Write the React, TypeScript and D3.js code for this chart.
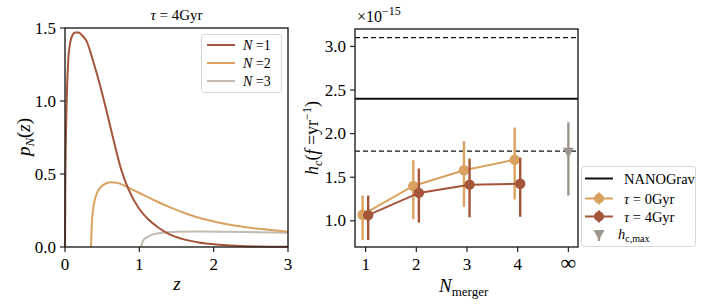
import * as d3 from "d3";

// left panel: p_N(z) for tau = 4 Gyr
const Z_N1 = [0, 0.005, 0.013, 0.025, 0.045, 0.07, 0.1, 0.14, 0.18, 0.23, 0.29, 0.38, 0.47, 0.55, 0.65, 0.75, 0.85, 1.0, 1.12, 1.25, 1.4, 1.6, 1.8, 2.0, 2.3, 2.6, 3.0];
const P_N1 = [0, 0.45, 0.77, 1.05, 1.29, 1.4, 1.45, 1.47, 1.47, 1.45, 1.41, 1.27, 1.11, 0.95, 0.74, 0.54, 0.4, 0.26, 0.19, 0.135, 0.088, 0.052, 0.031, 0.019, 0.008, 0.003, 0.001];
const Z_N2 = [0.35, 0.36, 0.38, 0.4, 0.43, 0.48, 0.55, 0.62, 0.7, 0.8, 0.9, 1.0, 1.2, 1.4, 1.6, 1.8, 2.0, 2.3, 2.6, 3.0];
const P_N2 = [0, 0.15, 0.265, 0.32, 0.37, 0.41, 0.435, 0.443, 0.44, 0.42, 0.395, 0.37, 0.32, 0.275, 0.235, 0.2, 0.175, 0.145, 0.125, 0.105];
const Z_N3 = [1.02, 1.04, 1.07, 1.1, 1.15, 1.23, 1.35, 1.5, 1.8, 2.2, 2.6, 3.0];
const P_N3 = [0, 0.03, 0.055, 0.066, 0.08, 0.092, 0.1, 0.104, 0.106, 0.104, 0.101, 0.098];
const LEFT_XTICKS = [0, 1, 2, 3];
const LEFT_YTICKS = [0, 0.5, 1.0, 1.5];

// right panel: h_c(f = 1/yr) in units of 1e-15
const N_MERGER = [1, 2, 3, 4];
const TAU0_HC = [1.07, 1.4, 1.58, 1.7];
const TAU0_LO = [0.78, 1.02, 1.16, 1.245];
const TAU0_HI = [1.29, 1.695, 1.915, 2.07];
const TAU4_HC = [1.065, 1.32, 1.415, 1.425];
const TAU4_LO = [0.78, 0.98, 1.04, 1.046];
const TAU4_HI = [1.29, 1.6, 1.714, 1.725];
const HCMAX = [1.78];
const HCMAX_LO = [1.29];
const HCMAX_HI = [2.13];
const NANOGRAV = 2.4;
const NANOGRAV_LO = 1.8;
const NANOGRAV_HI = 3.1;
const RIGHT_XTICKS = [1, 2, 3, 4, 5];
const RIGHT_XLABELS = ["1", "2", "3", "4", "∞"];
const RIGHT_YTICKS = [1.0, 1.5, 2.0, 2.5, 3.0];

const BROWN = "#a5553a";
const ORANGE = "#d9a260";
const LIGHTGRAY = "#c3bab1";
const MARKGRAY = "#9d968d";
const FONT = "'Liberation Serif', 'DejaVu Serif', serif";

const xL = d3.scaleLinear().domain([0, 3]).range([65, 288]);
const yL = d3.scaleLinear().domain([0, 1.5]).range([247, 28]);
const xR = d3.scaleLinear().domain([0.79, 5.19]).range([355, 578]);
const yR = d3.scaleLinear().domain([0.7, 3.2]).range([247, 29]);

const lineL = (zs: number[], ps: number[]) =>
  d3
    .line<number>()
    .x((_, i) => xL(zs[i]))
    .y((d) => yL(d))
    .curve(d3.curveMonotoneX)(ps) as string;

const Series = ({ xs, ys, lo, hi, color, dx }: { xs: number[]; ys: number[]; lo: number[]; hi: number[]; color: string; dx: number }) => {
  const path = d3
    .line<number>()
    .x((_, i) => xR(xs[i] + dx))
    .y((d) => yR(d))(ys) as string;
  return (
    <g>
      {xs.map((x, i) => (
        <line key={"e" + i} x1={xR(x + dx)} x2={xR(x + dx)} y1={yR(lo[i])} y2={yR(hi[i])} stroke={color} strokeWidth={2.4} />
      ))}
      <path d={path} fill="none" stroke={color} strokeWidth={2} />
      {xs.map((x, i) => (
        <circle key={"c" + i} cx={xR(x + dx)} cy={yR(ys[i])} r={5.2} fill={color} />
      ))}
    </g>
  );
};

const App = () => {
  const fs = 17;
  return (
    <svg width={706} height={305} style={{ position: "absolute", left: 0, top: 0, background: "#fff" }} fontFamily={FONT}>
      {/* ---------- left panel ---------- */}
      <text x={176.5} y={20} textAnchor="middle" fontSize={15}>
        <tspan fontStyle="italic">τ</tspan> = 4Gyr
      </text>
      <path d={lineL(Z_N3, P_N3)} fill="none" stroke={LIGHTGRAY} strokeWidth={2} />
      <path d={lineL(Z_N2, P_N2)} fill="none" stroke={ORANGE} strokeWidth={2} />
      <path d={lineL(Z_N1, P_N1)} fill="none" stroke={BROWN} strokeWidth={2} />
      <rect x={65} y={28} width={223} height={219} fill="none" stroke="#222" strokeWidth={1.4} />
      {LEFT_XTICKS.map((t) => (
        <g key={t}>
          <line x1={xL(t)} x2={xL(t)} y1={247} y2={252} stroke="#222" strokeWidth={1.2} />
          <text x={xL(t)} y={270} textAnchor="middle" fontSize={fs}>{t}</text>
        </g>
      ))}
      {LEFT_YTICKS.map((t) => (
        <g key={t}>
          <line x1={60} x2={65} y1={yL(t)} y2={yL(t)} stroke="#222" strokeWidth={1.2} />
          <text x={56} y={yL(t) + 5.5} textAnchor="end" fontSize={fs}>{t.toFixed(1)}</text>
        </g>
      ))}
      <text x={177} y={290} textAnchor="middle" fontSize={19} fontStyle="italic">z</text>
      <text transform="translate(30,137) rotate(-90)" textAnchor="middle" fontSize={19}>
        <tspan fontStyle="italic">p</tspan>
        <tspan fontStyle="italic" fontSize={13} dy={4}>N</tspan>
        <tspan dy={-4}>(</tspan>
        <tspan fontStyle="italic">z</tspan>
        <tspan>)</tspan>
      </text>
      {/* left legend */}
      <rect x={201.5} y={34.5} width={80} height={58} rx={3} fill="#fff" fillOpacity={0.8} stroke="#d6d6d6" />
      {[
        { c: BROWN, n: 1 },
        { c: ORANGE, n: 2 },
        { c: LIGHTGRAY, n: 3 },
      ].map((d, i) => (
        <g key={d.n}>
          <line x1={207} x2={235} y1={45 + i * 18} y2={45 + i * 18} stroke={d.c} strokeWidth={2} />
          <text x={243} y={50 + i * 18} fontSize={14}>
            <tspan fontStyle="italic">N</tspan> =<tspan>{d.n}</tspan>
          </text>
        </g>
      ))}

      {/* ---------- right panel ---------- */}
      <line x1={355} x2={578} y1={yR(NANOGRAV)} y2={yR(NANOGRAV)} stroke="#111" strokeWidth={2} />
      {[NANOGRAV_LO, NANOGRAV_HI].map((v) => (
        <line key={v} x1={355} x2={578} y1={yR(v)} y2={yR(v)} stroke="#111" strokeWidth={1.3} strokeDasharray="5,3" />
      ))}
      <Series xs={N_MERGER} ys={TAU0_HC} lo={TAU0_LO} hi={TAU0_HI} color={ORANGE} dx={-0.06} />
      <Series xs={N_MERGER} ys={TAU4_HC} lo={TAU4_LO} hi={TAU4_HI} color={BROWN} dx={0.05} />
      {HCMAX.map((v, i) => (
        <g key={i}>
          <line x1={xR(5)} x2={xR(5)} y1={yR(HCMAX_LO[i])} y2={yR(HCMAX_HI[i])} stroke={MARKGRAY} strokeWidth={2.4} />
          <path
            d={`M${xR(5) - 5.5},${yR(v) - 5} L${xR(5) + 5.5},${yR(v) - 5} L${xR(5)},${yR(v) + 5.5} Z`}
            fill={MARKGRAY}
          />
        </g>
      ))}
      <rect x={355} y={29} width={223} height={218} fill="none" stroke="#222" strokeWidth={1.4} />
      {RIGHT_XTICKS.map((t, i) => (
        <g key={t}>
          <line x1={xR(t)} x2={xR(t)} y1={247} y2={252} stroke="#222" strokeWidth={1.2} />
          <text x={xR(t)} y={270} textAnchor="middle" fontSize={i === 4 ? 22 : fs}>{RIGHT_XLABELS[i]}</text>
        </g>
      ))}
      {RIGHT_YTICKS.map((t) => (
        <g key={t}>
          <line x1={350} x2={355} y1={yR(t)} y2={yR(t)} stroke="#222" strokeWidth={1.2} />
          <text x={346} y={yR(t) + 5.5} textAnchor="end" fontSize={fs}>{t.toFixed(1)}</text>
        </g>
      ))}
      <text x={357} y={22} fontSize={16}>
        ×10<tspan dy={-7} fontSize={12}>−15</tspan>
      </text>
      <text x={439} y={292} fontSize={19}>
        <tspan fontStyle="italic">N</tspan>
        <tspan fontSize={13} dy={4}>merger</tspan>
      </text>
      <text transform="translate(318,138) rotate(-90)" textAnchor="middle" fontSize={18}>
        <tspan fontStyle="italic">h</tspan>
        <tspan fontStyle="italic" fontSize={12} dy={4}>c</tspan>
        <tspan dy={-4}>(</tspan>
        <tspan fontStyle="italic">f</tspan>
        <tspan> =yr</tspan>
        <tspan fontSize={12} dy={-7}>−1</tspan>
        <tspan dy={7}>)</tspan>
      </text>
      {/* right legend */}
      <rect x={581.5} y={166.5} width={114} height={80} rx={3} fill="#fff" stroke="#d6d6d6" />
      <line x1={585} x2={613} y1={178.5} y2={178.5} stroke="#111" strokeWidth={2} />
      <text x={624} y={183.5} fontSize={14.5}>NANOGrav</text>
      {[
        { c: ORANGE, t: "0Gyr", y: 198.5 },
        { c: BROWN, t: "4Gyr", y: 216.5 },
      ].map((d) => (
        <g key={d.t}>
          <line x1={585} x2={613} y1={d.y} y2={d.y} stroke={d.c} strokeWidth={2} />
          <line x1={599} x2={599} y1={d.y - 6} y2={d.y + 6} stroke={d.c} strokeWidth={2.4} />
          <circle cx={599} cy={d.y} r={5} fill={d.c} />
          <text x={624} y={d.y + 5} fontSize={14.5}>
            <tspan fontStyle="italic">τ</tspan> = {d.t}
          </text>
        </g>
      ))}
      <line x1={599} x2={599} y1={230} y2={241} stroke={MARKGRAY} strokeWidth={2.4} />
      <path d="M593.5,230 L604.5,230 L599,240 Z" fill={MARKGRAY} />
      <text x={618} y={239} fontSize={14.5}>
        <tspan fontStyle="italic">h</tspan>
        <tspan fontSize={10} dy={3}>c,max</tspan>
      </text>
    </svg>
  );
};

export default App;
